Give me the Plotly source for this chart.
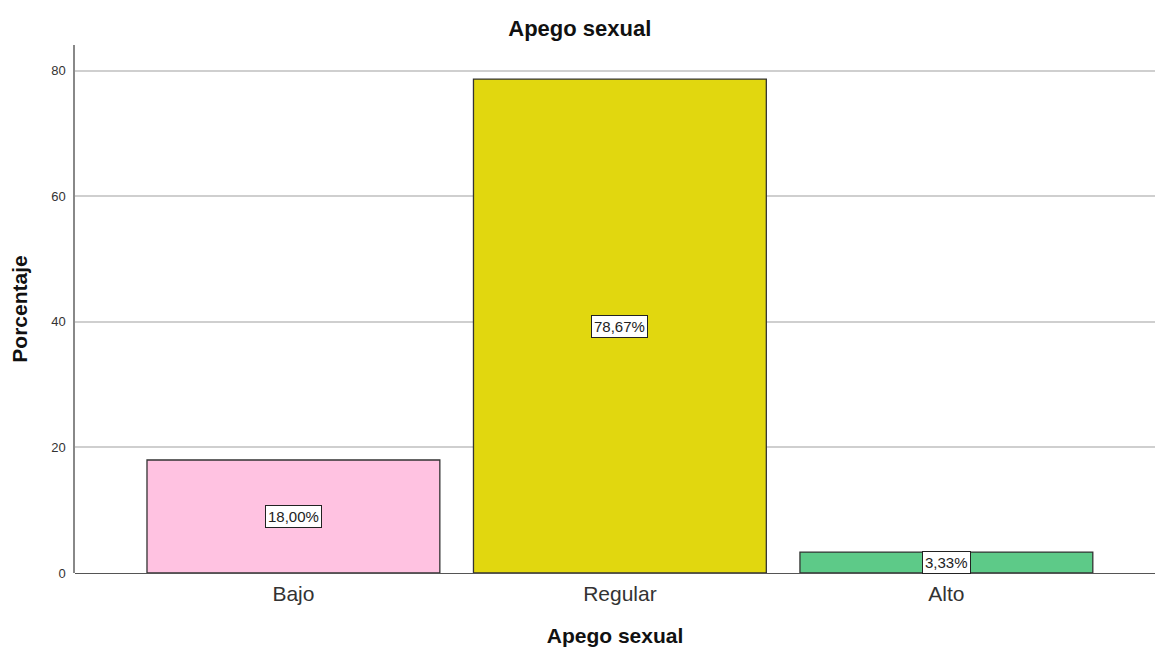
import plotly.graph_objects as go

# Frequency distribution of "Apego sexual"
categories = ["Bajo", "Regular", "Alto"]
percentages = [18.00, 78.67, 3.33]
bar_colors = ["#FFC2E1", "#E1D70F", "#5DCA88"]
y_ticks = [0, 20, 40, 60, 80]

font_family = "Liberation Sans, Arial, sans-serif"

fig = go.Figure()
fig.add_trace(go.Bar(
    x=list(range(len(categories))),
    y=percentages,
    width=0.897,
    marker=dict(color=bar_colors, line=dict(color="#333333", width=1.3)),
    hoverinfo="skip",
))

# Value labels in boxed white tags at the middle of each bar
for i, v in enumerate(percentages):
    fig.add_annotation(
        x=i, y=v / 2,
        text=f"{v:.2f}%".replace(".", ","),
        showarrow=False,
        font=dict(family=font_family, size=15, color="#222222"),
        bgcolor="white",
        bordercolor="#222222",
        borderwidth=1,
        borderpad=2,
    )

fig.update_layout(
    width=1155, height=650,
    margin=dict(l=75, r=0, t=45, b=77, autoexpand=False),
    paper_bgcolor="white",
    plot_bgcolor="white",
    showlegend=False,
    font=dict(family=font_family, color="#222222"),
    title=dict(
        text="<b>Apego sexual</b>",
        x=0.502, xanchor="center",
        y=0.957, yanchor="middle",
        font=dict(family=font_family, size=22, color="#111111"),
    ),
    xaxis=dict(
        range=[-0.669, 2.639],
        tickmode="array",
        tickvals=list(range(len(categories))),
        ticktext=categories,
        tickfont=dict(size=21, color="#333333"),
        ticks="",
        ticklabelstandoff=6,
        showgrid=False,
        zeroline=False,
        showline=False,
        automargin=False,
        title=dict(text="<b>Apego sexual</b>", font=dict(size=21, color="#111111"), standoff=24),
    ),
    yaxis=dict(
        range=[0, 84.1],
        tickmode="array",
        tickvals=y_ticks,
        tickfont=dict(size=13, color="#333333"),
        ticks="outside",
        ticklen=5,
        tickcolor="white",
        showgrid=True,
        gridcolor="#CFCFCF",
        gridwidth=1.5,
        zeroline=True,
        zerolinecolor="#555555",
        zerolinewidth=1.3,
        showline=True,
        linecolor="#888888",
        linewidth=1.5,
        automargin=False,
        title=dict(text="<b>Porcentaje</b>", font=dict(size=21, color="#111111"), standoff=18),
    ),
)

fig.write_html("out.html")
